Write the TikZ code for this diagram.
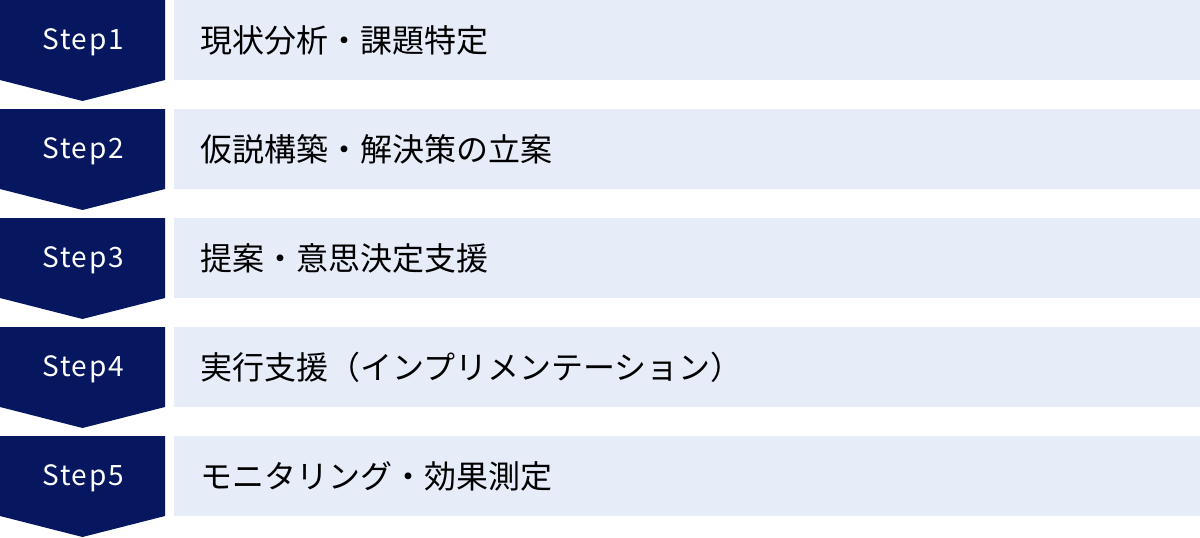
\documentclass[tikz,border=0pt]{standalone}
\usepackage{fontspec}
\setmainfont{Noto Sans CJK JP}
\newfontfamily\jpfont{Noto Sans CJK JP}
\newfontfamily\stepfont{Noto Sans CJK JP}[LetterSpace=6]
\usetikzlibrary{positioning}
\definecolor{stepnavy}{HTML}{061760}
\definecolor{rowblue}{HTML}{E7ECF9}

\begin{document}
\begin{tikzpicture}[x=1pt, y=-1pt]
\tikzstyle{steplabel}=[text=white, font=\stepfont\fontsize{28}{30}\selectfont, inner sep=0pt]
\tikzstyle{rowbox}=[fill=rowblue, minimum width=1026pt, minimum height=80pt, inner sep=0pt, anchor=north west]
\tikzstyle{rowtext}=[font=\jpfont\fontsize{32}{36}\selectfont, inner sep=0pt, anchor=west]
\useasboundingbox (0,0) rectangle (1200,538);

\fill[stepnavy] (0,0) -- (165,0) -- (165,80) -- (82.5,101) -- (0,80) -- cycle;
\fill[stepnavy] (0,109) -- (165,109) -- (165,189) -- (82.5,210) -- (0,189) -- cycle;
\fill[stepnavy] (0,218) -- (165,218) -- (165,298) -- (82.5,319) -- (0,298) -- cycle;
\fill[stepnavy] (0,327) -- (165,327) -- (165,407) -- (82.5,428) -- (0,407) -- cycle;
\fill[stepnavy] (0,436) -- (165,436) -- (165,516) -- (82.5,537) -- (0,516) -- cycle;

\node[steplabel] (s1) at (83,42) {Step1};
\node[steplabel] (s2) at (83,151) {Step2};
\node[steplabel] (s3) at (83,260) {Step3};
\node[steplabel] (s4) at (83,369) {Step4};
\node[steplabel] (s5) at (83,478) {Step5};

\node[rowbox] (r1) at (174,0) {};
\node[rowbox] (r2) at (174,109) {};
\node[rowbox] (r3) at (174,218) {};
\node[rowbox] (r4) at (174,327) {};
\node[rowbox] (r5) at (174,436) {};

\node[rowtext] (t1) at (200,40) {現状分析・課題特定};
\node[rowtext] (t2) at (200,149) {仮説構築・解決策の立案};
\node[rowtext] (t3) at (200,258) {提案・意思決定支援};
\node[rowtext] (t4) at (200,367) {実行支援（インプリメンテーション）};
\node[rowtext] (t5) at (200,476) {モニタリング・効果測定};

\end{tikzpicture}
\end{document}
